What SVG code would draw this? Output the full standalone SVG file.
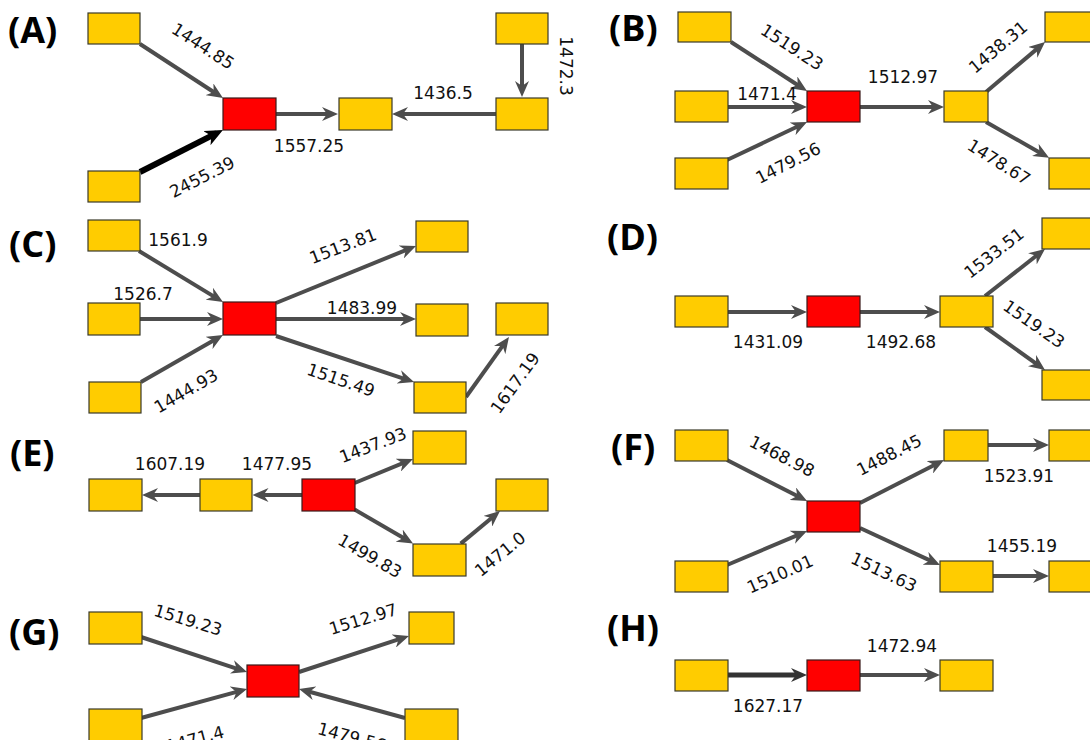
<svg xmlns="http://www.w3.org/2000/svg" width="1090" height="740" viewBox="0 0 1090 740">
<style>
.n{fill:#ffcc00;stroke:#3a3a2a;stroke-width:1.2}
.r{fill:#ff0000;stroke:#3a1a1a;stroke-width:1.2}
.e{stroke:#4d4d4d;stroke-width:4;fill:none;marker-end:url(#ah)}
.ek{stroke:#000;stroke-width:6;fill:none;marker-end:url(#ahk)}
.ed{stroke:#333;stroke-width:5;fill:none;marker-end:url(#ahd)}
.l{font-family:"DejaVu Sans",sans-serif;font-size:17px;fill:#111;text-anchor:middle}
.lr{font-family:"DejaVu Sans",sans-serif;font-size:17px;fill:#111;text-anchor:middle;dominant-baseline:central}
.p{font-family:"Open Sans",sans-serif;font-weight:700;font-size:36px;fill:#000}
</style>
<defs>
<marker id="ah" viewBox="0 0 16 14" refX="9" refY="7" markerWidth="16" markerHeight="14" markerUnits="userSpaceOnUse" orient="auto"><path d="M0,0 L16,7 L0,14 L5,7 z" fill="#4d4d4d"/></marker>
<marker id="ahk" viewBox="0 0 18 16" refX="11" refY="8" markerWidth="18" markerHeight="16" markerUnits="userSpaceOnUse" orient="auto"><path d="M0,0 L18,8 L0,16 L5,8 z" fill="#000"/></marker>
<marker id="ahd" viewBox="0 0 16 14" refX="9" refY="7" markerWidth="16" markerHeight="14" markerUnits="userSpaceOnUse" orient="auto"><path d="M0,0 L16,7 L0,14 L5,7 z" fill="#333"/></marker>
</defs>

<g id="panel-letters">
<text class="p" x="8" y="43">(A)</text>
<text class="p" x="609" y="41">(B)</text>
<text class="p" x="9" y="257">(C)</text>
<text class="p" x="607" y="250">(D)</text>
<text class="p" x="10" y="466">(E)</text>
<text class="p" x="611" y="460">(F)</text>
<text class="p" x="9" y="645">(G)</text>
<text class="p" x="607" y="641">(H)</text>
</g>

<g id="connectors">
<!-- A -->
<line class="e" x1="140" y1="44" x2="217.1" y2="94.2"/>
<line class="ek" x1="140" y1="172" x2="216.7" y2="133.1"/>
<line class="e" x1="276" y1="114" x2="331" y2="114"/>
<line class="e" x1="496" y1="114" x2="399" y2="114"/>
<line class="e" x1="522" y1="44" x2="522" y2="90"/>
<!-- B -->
<line class="e" x1="731" y1="42" x2="801.1" y2="87.2"/>
<line class="e" x1="727" y1="107" x2="800" y2="107"/>
<line class="e" x1="727" y1="160" x2="800.7" y2="125"/>
<line class="e" x1="860" y1="107" x2="937" y2="107"/>
<line class="e" x1="986" y1="92" x2="1039.7" y2="46.6"/>
<line class="e" x1="986" y1="122" x2="1043" y2="154.4"/>
<!-- C -->
<line class="e" x1="139" y1="251" x2="217" y2="298.4"/>
<line class="e" x1="140" y1="319" x2="216" y2="319"/>
<line class="e" x1="141" y1="382" x2="216.9" y2="338.5"/>
<line class="e" x1="276" y1="303" x2="409.5" y2="248.6"/>
<line class="e" x1="276" y1="319" x2="409" y2="319"/>
<line class="e" x1="276" y1="336" x2="407.4" y2="379.8"/>
<line class="e" x1="466" y1="397" x2="504.9" y2="342.7"/>
<!-- D -->
<line class="e" x1="727" y1="312" x2="800" y2="312"/>
<line class="e" x1="860" y1="312" x2="933" y2="312"/>
<line class="e" x1="985" y1="296" x2="1039.5" y2="253.3"/>
<line class="e" x1="985" y1="327" x2="1039.3" y2="365.9"/>
<!-- E -->
<line class="e" x1="302" y1="495" x2="259.5" y2="495"/>
<line class="e" x1="200" y1="495" x2="149" y2="495"/>
<line class="e" x1="354.6" y1="483" x2="406.5" y2="461.7"/>
<line class="e" x1="354.6" y1="509.6" x2="407" y2="540.1"/>
<line class="e" x1="460.7" y1="543.6" x2="494.6" y2="515.5"/>
<!-- F -->
<line class="e" x1="727" y1="460" x2="800.8" y2="497.8"/>
<line class="e" x1="727" y1="565" x2="800.6" y2="533.8"/>
<line class="e" x1="860" y1="503" x2="937.8" y2="463.2"/>
<line class="e" x1="860" y1="528" x2="933.6" y2="562.1"/>
<line class="e" x1="988" y1="445" x2="1042" y2="445"/>
<line class="e" x1="992" y1="576" x2="1042" y2="576"/>
<!-- G -->
<line class="e" x1="141" y1="637" x2="240.4" y2="669.8"/>
<line class="e" x1="141" y1="718" x2="240.3" y2="690.9"/>
<line class="e" x1="299" y1="672" x2="402.3" y2="638.2"/>
<line class="e" x1="405" y1="718" x2="305.8" y2="690.8"/>
<!-- H -->
<line class="ed" x1="727" y1="675" x2="800" y2="675"/>
<line class="e" x1="860" y1="675" x2="933" y2="675"/>
</g>

<g id="edge-labels">
<text class="lr" transform="translate(203,46) rotate(33)">1444.85</text>
<text class="lr" transform="translate(202,177) rotate(-27)">2455.39</text>
<text class="l" x="309" y="152">1557.25</text>
<text class="l" x="443" y="99">1436.5</text>
<text class="lr" transform="translate(566,66) rotate(90)">1472.3</text>

<text class="lr" transform="translate(792,47) rotate(33)">1519.23</text>
<text class="l" x="767" y="100">1471.4</text>
<text class="lr" transform="translate(788,163) rotate(-27)">1479.56</text>
<text class="l" x="903" y="83">1512.97</text>
<text class="lr" transform="translate(998,47) rotate(-40)">1438.31</text>
<text class="lr" transform="translate(999,162) rotate(32)">1478.67</text>

<text class="l" x="178" y="246">1561.9</text>
<text class="l" x="143" y="300">1526.7</text>
<text class="lr" transform="translate(186,391) rotate(-30)">1444.93</text>
<text class="lr" transform="translate(343,246) rotate(-21)">1513.81</text>
<text class="l" x="362" y="314">1483.99</text>
<text class="lr" transform="translate(341,380) rotate(19)">1515.49</text>
<text class="lr" transform="translate(515,383) rotate(-54)">1617.19</text>

<text class="l" x="768" y="348">1431.09</text>
<text class="l" x="901" y="348">1492.68</text>
<text class="lr" transform="translate(994,253) rotate(-38)">1533.51</text>
<text class="lr" transform="translate(1034,324) rotate(35)">1519.23</text>

<text class="l" x="170" y="470">1607.19</text>
<text class="l" x="277" y="470">1477.95</text>
<text class="lr" transform="translate(373,445) rotate(-21)">1437.93</text>
<text class="lr" transform="translate(370,556) rotate(30)">1499.83</text>
<text class="lr" transform="translate(500,554) rotate(-39)">1471.0</text>

<text class="lr" transform="translate(782,456) rotate(27)">1468.98</text>
<text class="lr" transform="translate(780,574) rotate(-24)">1510.01</text>
<text class="lr" transform="translate(889,455) rotate(-27)">1488.45</text>
<text class="lr" transform="translate(884,572) rotate(25)">1513.63</text>
<text class="l" x="1019" y="482">1523.91</text>
<text class="l" x="1022" y="552">1455.19</text>

<text class="lr" transform="translate(188,620) rotate(17)">1519.23</text>
<text class="lr" transform="translate(195,739) rotate(-15)">1471.4</text>
<text class="lr" transform="translate(363,619) rotate(-17)">1512.97</text>
<text class="lr" transform="translate(352,737) rotate(15)">1479.56</text>

<text class="l" x="768" y="712">1627.17</text>
<text class="l" x="902" y="652">1472.94</text>
</g>

<g id="nA1"><rect class="n" x="88" y="13" width="52" height="31"/></g>
<g id="nA2"><rect class="n" x="88" y="171" width="52" height="31"/></g>
<g id="nAR"><rect class="r" x="223" y="98" width="53" height="32"/></g>
<g id="nA3"><rect class="n" x="339" y="98" width="53" height="32"/></g>
<g id="nA4"><rect class="n" x="496" y="13" width="52" height="31"/></g>
<g id="nA5"><rect class="n" x="496" y="98" width="52" height="32"/></g>

<g id="nB1"><rect class="n" x="678" y="12" width="53" height="30"/></g>
<g id="nB2"><rect class="n" x="675" y="91" width="53" height="31"/></g>
<g id="nB3"><rect class="n" x="675" y="158" width="53" height="31"/></g>
<g id="nBR"><rect class="r" x="807" y="91" width="53" height="31"/></g>
<g id="nB4"><rect class="n" x="944" y="91" width="44" height="31"/></g>
<g id="nB5"><rect class="n" x="1045" y="12" width="52" height="30"/></g>
<g id="nB6"><rect class="n" x="1049" y="158" width="52" height="31"/></g>

<g id="nC1"><rect class="n" x="88" y="220" width="52" height="31"/></g>
<g id="nC2"><rect class="n" x="88" y="303" width="52" height="32"/></g>
<g id="nC3"><rect class="n" x="89" y="382" width="52" height="31"/></g>
<g id="nCR"><rect class="r" x="223" y="302" width="53" height="33"/></g>
<g id="nC4"><rect class="n" x="416" y="221" width="52" height="31"/></g>
<g id="nC5"><rect class="n" x="416" y="304" width="52" height="32"/></g>
<g id="nC6"><rect class="n" x="414" y="382" width="52" height="31"/></g>
<g id="nC7"><rect class="n" x="496" y="303" width="52" height="32"/></g>

<g id="nD1"><rect class="n" x="675" y="296" width="53" height="31"/></g>
<g id="nDR"><rect class="r" x="807" y="296" width="53" height="31"/></g>
<g id="nD2"><rect class="n" x="940" y="296" width="53" height="31"/></g>
<g id="nD3"><rect class="n" x="1042" y="218" width="52" height="31"/></g>
<g id="nD4"><rect class="n" x="1042" y="370" width="52" height="30"/></g>

<g id="nE1"><rect class="n" x="89" y="479" width="53" height="32"/></g>
<g id="nE2"><rect class="n" x="200" y="479" width="52" height="32"/></g>
<g id="nER"><rect class="r" x="302" y="479" width="53" height="32"/></g>
<g id="nE3"><rect class="n" x="413" y="431" width="53" height="33"/></g>
<g id="nE4"><rect class="n" x="413" y="544" width="53" height="32"/></g>
<g id="nE5"><rect class="n" x="496" y="479" width="52" height="32"/></g>

<g id="nF1"><rect class="n" x="675" y="430" width="53" height="31"/></g>
<g id="nF2"><rect class="n" x="675" y="561" width="53" height="31"/></g>
<g id="nFR"><rect class="r" x="807" y="501" width="53" height="31"/></g>
<g id="nF3"><rect class="n" x="944" y="430" width="44" height="31"/></g>
<g id="nF4"><rect class="n" x="1049" y="430" width="52" height="31"/></g>
<g id="nF5"><rect class="n" x="940" y="561" width="53" height="31"/></g>
<g id="nF6"><rect class="n" x="1049" y="561" width="52" height="31"/></g>

<g id="nG1"><rect class="n" x="89" y="612" width="53" height="32"/></g>
<g id="nG2"><rect class="n" x="89" y="709" width="53" height="32"/></g>
<g id="nGR"><rect class="r" x="247" y="665" width="52" height="32"/></g>
<g id="nG3"><rect class="n" x="409" y="612" width="45" height="32"/></g>
<g id="nG4"><rect class="n" x="405" y="709" width="53" height="32"/></g>

<g id="nH1"><rect class="n" x="675" y="660" width="53" height="31"/></g>
<g id="nHR"><rect class="r" x="807" y="660" width="53" height="31"/></g>
<g id="nH2"><rect class="n" x="940" y="660" width="53" height="31"/></g>
</svg>
